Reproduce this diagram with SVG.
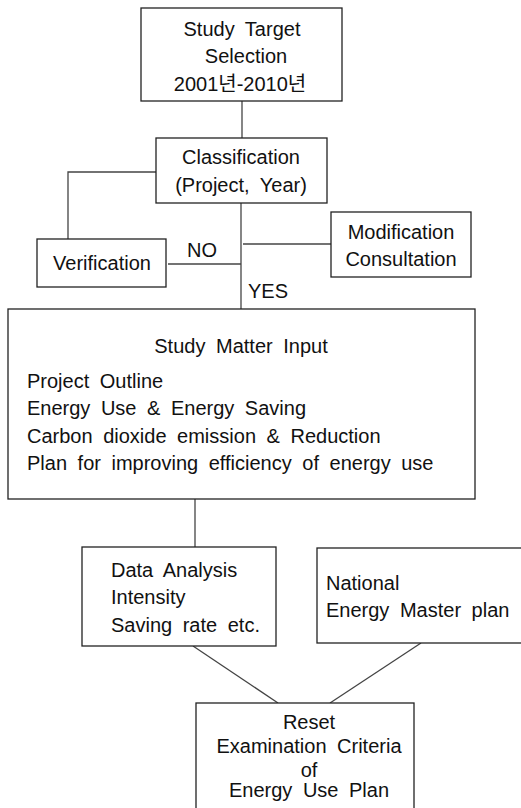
<svg xmlns="http://www.w3.org/2000/svg" width="521" height="808" viewBox="0 0 521 808">
<style>
rect{fill:#fff;stroke:#222;stroke-width:1.3}
.c line,.c polyline{stroke:#444;stroke-width:1.3;fill:none}
text{font-family:"Liberation Sans",Arial,"Noto Sans CJK KR",sans-serif;font-size:20px;fill:#111;word-spacing:5px}
.m{text-anchor:middle}
</style>
<rect x="0" y="0" width="521" height="808" style="stroke:none"/>
<g class="c" id="connectors">
<line x1="242" y1="101" x2="242" y2="138"/>
<polyline points="156,172 68,172 68,239"/>
<line x1="241" y1="203" x2="241" y2="309"/>
<line x1="168" y1="264" x2="241" y2="264"/>
<line x1="243" y1="244" x2="331" y2="244"/>
<line x1="195" y1="499" x2="195" y2="547"/>
<line x1="193" y1="646" x2="278" y2="703"/>
<line x1="421" y1="643" x2="330" y2="703"/>
</g>
<g id="target">
<rect x="141" y="8" width="201" height="93"/>
<text class="m" x="242" y="36">Study Target</text>
<text class="m" x="246" y="63">Selection</text>
<text class="m" x="240" y="91">2001년-2010년</text>
</g>
<g id="classification">
<rect x="156" y="138" width="171" height="65"/>
<text class="m" x="241" y="164">Classification</text>
<text class="m" x="241" y="192">(Project, Year)</text>
</g>
<g id="verification">
<rect x="37" y="239" width="129" height="48"/>
<text class="m" x="102" y="270">Verification</text>
</g>
<text x="187" y="257">NO</text>
<text x="248" y="298">YES</text>
<g id="modification">
<rect x="331" y="212" width="140" height="65"/>
<text class="m" x="401" y="239">Modification</text>
<text class="m" x="401" y="266">Consultation</text>
</g>
<g id="input">
<rect x="8" y="309" width="467" height="190"/>
<text class="m" x="241" y="353">Study Matter Input</text>
<text x="27" y="388">Project Outline</text>
<text x="27" y="415">Energy Use &amp; Energy Saving</text>
<text x="27" y="443">Carbon dioxide emission &amp; Reduction</text>
<text x="27" y="470">Plan for improving efficiency of energy use</text>
</g>
<g id="analysis">
<rect x="82" y="547" width="194" height="99"/>
<text x="111" y="577">Data Analysis</text>
<text x="111" y="604">Intensity</text>
<text x="111" y="632">Saving rate etc.</text>
</g>
<g id="national">
<rect x="317" y="548" width="220" height="95"/>
<text x="326" y="590">National</text>
<text x="326" y="617">Energy Master plan</text>
</g>
<g id="reset">
<rect x="196" y="703" width="218" height="120"/>
<text class="m" x="309" y="729">Reset</text>
<text class="m" x="309" y="753">Examination Criteria</text>
<text class="m" x="309" y="777">of</text>
<text class="m" x="309" y="797">Energy Use Plan</text>
</g>
</svg>
